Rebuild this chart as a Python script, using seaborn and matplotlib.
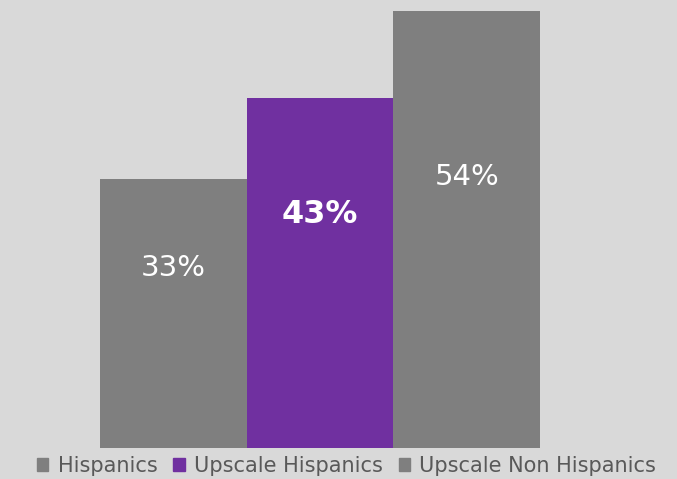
import matplotlib
matplotlib.use("Agg")
import matplotlib.pyplot as plt
import matplotlib.patches as mpatches
import seaborn as sns
import pandas as pd

# Share of each group (percent)
categories = ["Hispanics", "Upscale Hispanics", "Upscale Non Hispanics"]
values = [33, 43, 54]
value_labels = ["33%", "43%", "54%"]

colors = ["#7f7f7f", "#7030a0", "#7f7f7f"]
bg = "#d9d9d9"

df = pd.DataFrame({"group": categories, "share": values})

sns.set_theme(style="white")
plt.rcParams["font.family"] = ["DejaVu Sans"]

fig = plt.figure(figsize=(6.77, 4.79), dpi=100, facecolor=bg)
ax = fig.add_axes([100 / 677, 31 / 479, 440 / 677, 437 / 479])
ax.set_facecolor(bg)

sns.barplot(data=df, x="group", y="share", hue="group", palette=colors,
            width=1.0, dodge=False, legend=False, saturation=1,
            linewidth=0, edgecolor="none", ax=ax)

ax.set_xlim(-0.5, 2.5)
ax.set_ylim(0, 53.7)
ax.set_axis_off()

# value labels sit in the upper part of each bar
label_frac = [0.67, 0.667, 0.617]
label_style = [dict(fontsize=21, fontweight="normal"),
               dict(fontsize=23, fontweight="bold"),
               dict(fontsize=21, fontweight="normal")]
for i, (v, lab) in enumerate(zip(values, value_labels)):
    ax.text(i, v * label_frac[i], lab, ha="center", va="center",
            color="white", **label_style[i])

handles = [mpatches.Patch(color=c, label=n) for c, n in zip(colors, categories)]
fig.legend(handles=handles, loc="center", bbox_to_anchor=(0.512, 13 / 479),
           ncol=3, frameon=False, fontsize=15, labelcolor="#595959",
           handlelength=0.55, handleheight=0.55, handletextpad=0.45,
           columnspacing=0.75, borderaxespad=0, borderpad=0)

fig.savefig("out.png", dpi=100, facecolor=bg)
